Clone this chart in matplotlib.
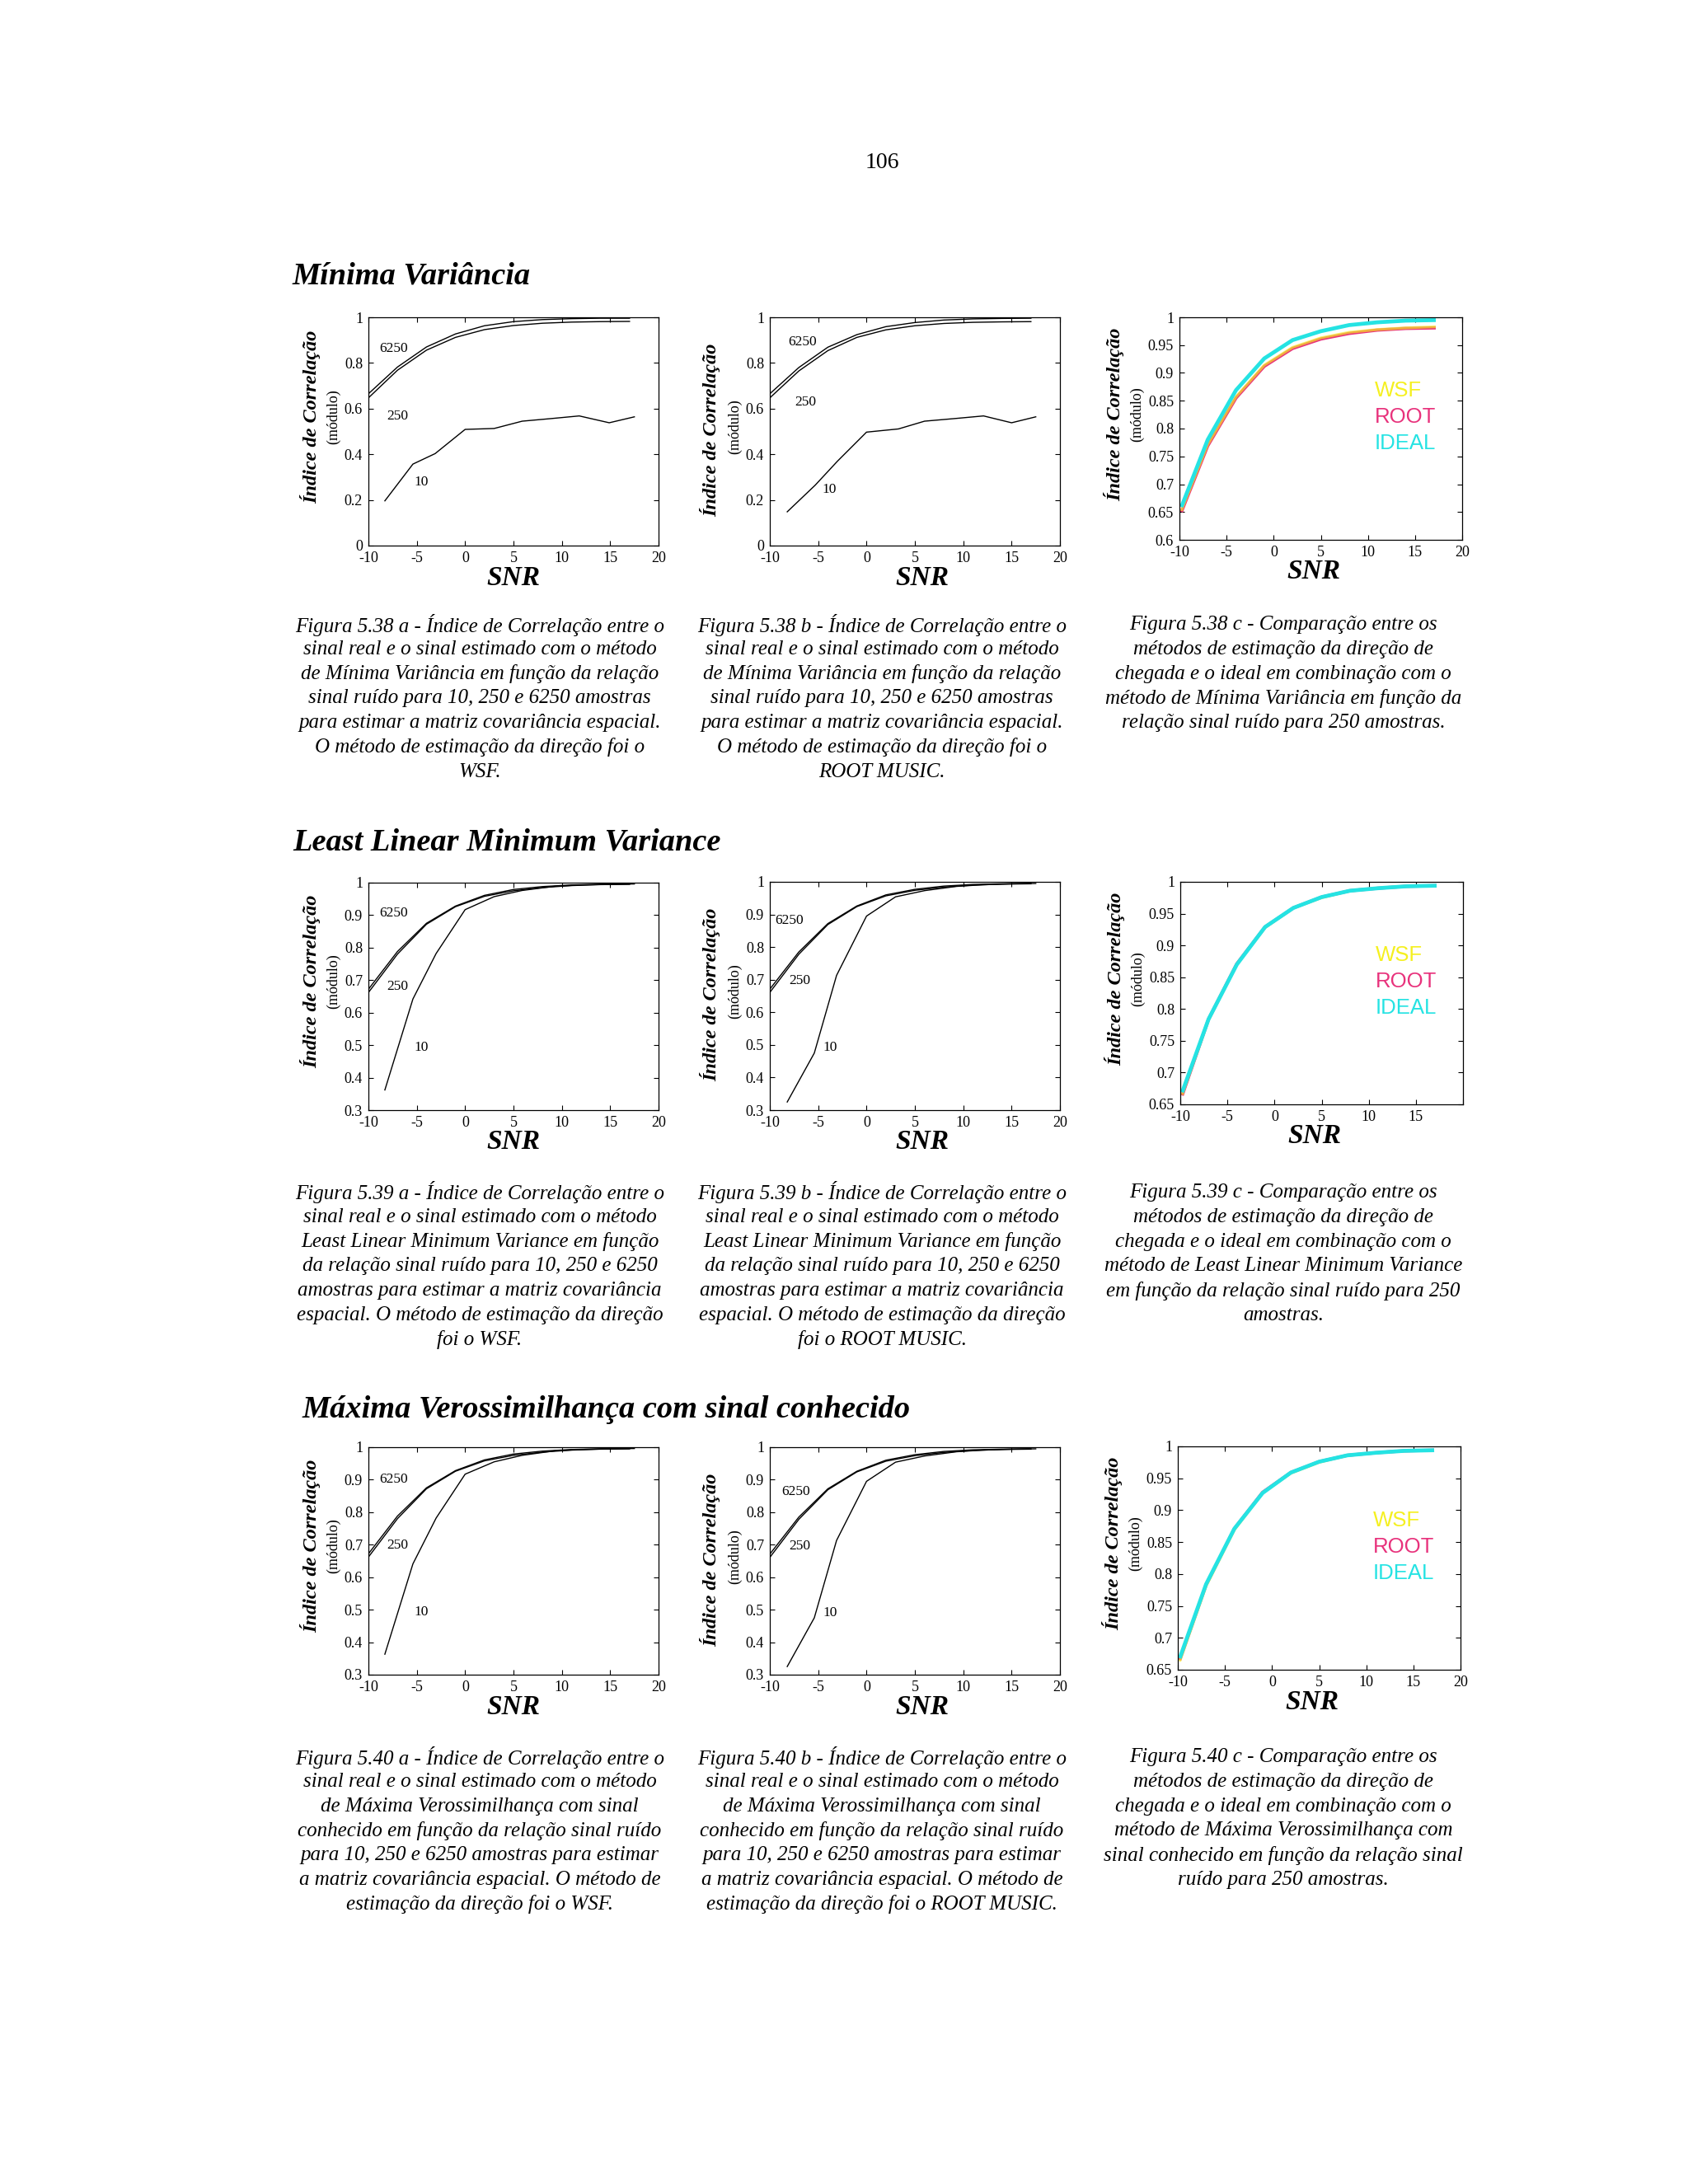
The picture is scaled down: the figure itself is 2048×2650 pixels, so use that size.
import matplotlib
matplotlib.use('Agg')
import matplotlib.pyplot as plt
from matplotlib.ticker import FixedLocator, FixedFormatter

W, H = 2048, 2650

# ---- data read from the page ----
snr = [-10, -7, -4, -1, 2, 5, 8, 11, 14, 17]

# Minima Variancia, WSF (5.38 a)
mv_wsf_6250 = [0.665, 0.782, 0.870, 0.927, 0.963, 0.981, 0.990, 0.994, 0.996, 0.996]
mv_wsf_250 = [0.647, 0.768, 0.856, 0.912, 0.946, 0.964, 0.974, 0.979, 0.981, 0.982]
mv_wsf_10_snr = [-8.3, -5.4, -3.1, 0.0, 3.0, 5.9, 8.8, 11.8, 14.9, 17.5]
mv_wsf_10 = [0.196, 0.357, 0.403, 0.509, 0.513, 0.545, 0.556, 0.568, 0.538, 0.564]

# Minima Variancia, ROOT MUSIC (5.38 b)
mv_root_6250 = [0.665, 0.780, 0.869, 0.924, 0.959, 0.977, 0.988, 0.993, 0.995, 0.996]
mv_root_250 = [0.647, 0.765, 0.854, 0.912, 0.945, 0.963, 0.973, 0.978, 0.980, 0.981]
mv_root_10_snr = [-8.2, -5.3, -3.0, 0.0, 3.3, 6.0, 9.0, 12.1, 15.0, 17.5]
mv_root_10 = [0.148, 0.265, 0.370, 0.497, 0.511, 0.545, 0.556, 0.568, 0.538, 0.564]

# Minima Variancia, comparison (5.38 c)
cmp_snr = [-9.8, -7, -4, -1, 2, 5, 8, 11, 14, 17.2]
mv_cmp_wsf = [0.652, 0.771, 0.857, 0.914, 0.946, 0.963, 0.973, 0.978, 0.981, 0.983]
mv_cmp_root = [0.650, 0.769, 0.855, 0.912, 0.944, 0.961, 0.971, 0.977, 0.980, 0.981]
mv_cmp_ideal = [0.659, 0.780, 0.869, 0.926, 0.959, 0.975, 0.986, 0.991, 0.994, 0.995]

# Least Linear Minimum Variance, WSF (5.39 a)
llmv_wsf_6250 = [0.672, 0.788, 0.875, 0.928, 0.961, 0.979, 0.988, 0.993, 0.995, 0.996]
llmv_wsf_250 = [0.662, 0.780, 0.872, 0.926, 0.958, 0.975, 0.985, 0.991, 0.994, 0.995]
llmv_wsf_10_snr = [-8.3, -5.4, -3.0, 0.0, 3.0, 5.9, 9.3, 12.0, 15.0, 17.5]
llmv_wsf_10 = [0.362, 0.642, 0.782, 0.917, 0.957, 0.976, 0.989, 0.993, 0.995, 0.996]

# Least Linear Minimum Variance, ROOT MUSIC (5.39 b)
llmv_root_6250 = [0.671, 0.785, 0.872, 0.926, 0.960, 0.977, 0.987, 0.992, 0.994, 0.995]
llmv_root_250 = [0.661, 0.778, 0.869, 0.924, 0.957, 0.974, 0.984, 0.990, 0.993, 0.994]
llmv_root_10_snr = [-8.2, -5.4, -3.1, 0.0, 3.0, 6.0, 9.3, 12.0, 15.0, 17.5]
llmv_root_10 = [0.325, 0.475, 0.713, 0.895, 0.954, 0.973, 0.986, 0.991, 0.994, 0.995]

# Least Linear Minimum Variance, comparison (5.39 c)
llmv_cmp_wsf = [0.665, 0.783, 0.870, 0.928, 0.959, 0.975, 0.986, 0.990, 0.993, 0.994]
llmv_cmp_root = [0.664, 0.784, 0.871, 0.929, 0.959, 0.976, 0.986, 0.990, 0.993, 0.994]
llmv_cmp_ideal = [0.669, 0.784, 0.870, 0.929, 0.959, 0.976, 0.986, 0.990, 0.993, 0.994]

# Maxima Verossimilhanca, WSF (5.40 a)
ml_wsf_6250 = [0.672, 0.788, 0.875, 0.928, 0.961, 0.979, 0.988, 0.993, 0.995, 0.996]
ml_wsf_250 = [0.662, 0.780, 0.872, 0.926, 0.958, 0.975, 0.985, 0.991, 0.994, 0.995]
ml_wsf_10_snr = [-8.3, -5.4, -3.0, 0.0, 3.0, 5.9, 9.3, 12.0, 15.0, 17.5]
ml_wsf_10 = [0.363, 0.641, 0.782, 0.917, 0.955, 0.975, 0.989, 0.993, 0.995, 0.996]

# Maxima Verossimilhanca, ROOT MUSIC (5.40 b)
ml_root_6250 = [0.671, 0.785, 0.872, 0.926, 0.960, 0.977, 0.987, 0.992, 0.994, 0.995]
ml_root_250 = [0.661, 0.778, 0.869, 0.924, 0.957, 0.974, 0.984, 0.990, 0.993, 0.994]
ml_root_10_snr = [-8.2, -5.4, -3.1, 0.0, 3.0, 6.0, 9.3, 12.0, 15.0, 17.5]
ml_root_10 = [0.325, 0.475, 0.713, 0.895, 0.954, 0.973, 0.986, 0.991, 0.994, 0.995]

# Maxima Verossimilhanca, comparison (5.40 c)
ml_cmp_wsf = [0.663, 0.781, 0.869, 0.927, 0.958, 0.975, 0.986, 0.990, 0.993, 0.994]
ml_cmp_root = [0.665, 0.783, 0.871, 0.928, 0.959, 0.976, 0.986, 0.990, 0.993, 0.994]
ml_cmp_ideal = [0.668, 0.784, 0.871, 0.927, 0.959, 0.976, 0.986, 0.990, 0.993, 0.994]

snr_ticks = [-10, -5, 0, 5, 10, 15, 20]
snr_labels = ['-10', '-5', '0', '5', '10', '15', '20']
snr_labels_no20 = ['-10', '-5', '0', '5', '10', '15', '']
y_ticks_full = [0, 0.2, 0.4, 0.6, 0.8, 1]
y_labels_full = ['0', '0.2', '0.4', '0.6', '0.8', '1']
y_ticks_03 = [0.3, 0.4, 0.5, 0.6, 0.7, 0.8, 0.9, 1]
y_labels_03 = ['0.3', '0.4', '0.5', '0.6', '0.7', '0.8', '0.9', '1']
y_ticks_06 = [0.6, 0.65, 0.7, 0.75, 0.8, 0.85, 0.9, 0.95, 1]
y_labels_06 = ['0.6', '0.65', '0.7', '0.75', '0.8', '0.85', '0.9', '0.95', '1']
y_ticks_065 = [0.65, 0.7, 0.75, 0.8, 0.85, 0.9, 0.95, 1]
y_labels_065 = ['0.65', '0.7', '0.75', '0.8', '0.85', '0.9', '0.95', '1']

method_names = ['WSF', 'ROOT', 'IDEAL']
method_colors = ['#f5f020', '#e8327c', '#25e3e3']

headings = ['Mínima Variância', 'Least Linear Minimum Variance',
            'Máxima Verossimilhança com sinal conhecido']

captions = [
    [["Figura 5.38 a - Índice de Correlação entre o",
      "sinal real e o sinal estimado com o método",
      "de Mínima Variância em função da relação",
      "sinal ruído para 10, 250 e 6250 amostras",
      "para estimar a matriz covariância espacial.",
      "O método de estimação da direção foi o",
      "WSF."],
     ["Figura 5.38 b - Índice de Correlação entre o",
      "sinal real e o sinal estimado com o método",
      "de Mínima Variância em função da relação",
      "sinal ruído para 10, 250 e 6250 amostras",
      "para estimar a matriz covariância espacial.",
      "O método de estimação da direção foi o",
      "ROOT MUSIC."],
     ["Figura 5.38 c - Comparação entre os",
      "métodos de estimação da direção de",
      "chegada e o ideal em combinação com o",
      "método de Mínima Variância em função da",
      "relação sinal ruído para 250 amostras."]],
    [["Figura 5.39 a - Índice de Correlação entre o",
      "sinal real e o sinal estimado com o método",
      "Least Linear Minimum Variance em função",
      "da relação sinal ruído para 10, 250 e 6250",
      "amostras para estimar a matriz covariância",
      "espacial. O método de estimação da direção",
      "foi o WSF."],
     ["Figura 5.39 b - Índice de Correlação entre o",
      "sinal real e o sinal estimado com o método",
      "Least Linear Minimum Variance em função",
      "da relação sinal ruído para 10, 250 e 6250",
      "amostras para estimar a matriz covariância",
      "espacial. O método de estimação da direção",
      "foi o ROOT MUSIC."],
     ["Figura 5.39 c - Comparação entre os",
      "métodos de estimação da direção de",
      "chegada e o ideal em combinação com o",
      "método de Least Linear Minimum Variance",
      "em função da relação sinal ruído para 250",
      "amostras."]],
    [["Figura 5.40 a - Índice de Correlação entre o",
      "sinal real e o sinal estimado com o método",
      "de Máxima Verossimilhança com sinal",
      "conhecido em função da relação sinal ruído",
      "para 10, 250 e 6250 amostras para estimar",
      "a matriz covariância espacial. O método de",
      "estimação da direção foi o WSF."],
     ["Figura 5.40 b - Índice de Correlação entre o",
      "sinal real e o sinal estimado com o método",
      "de Máxima Verossimilhança com sinal",
      "conhecido em função da relação sinal ruído",
      "para 10, 250 e 6250 amostras para estimar",
      "a matriz covariância espacial. O método de",
      "estimação da direção foi o ROOT MUSIC."],
     ["Figura 5.40 c - Comparação entre os",
      "métodos de estimação da direção de",
      "chegada e o ideal em combinação com o",
      "método de Máxima Verossimilhança com",
      "sinal conhecido em função da relação sinal",
      "ruído para 250 amostras."]],
]

plt.rcParams['font.family'] = ['Liberation Serif', 'DejaVu Serif']

fig = plt.figure(figsize=(W / 100, H / 100), dpi=100)
fig.patch.set_facecolor('white')


def px(x, y):
    return x / W, 1 - y / H


def make_axes(box, yticks, ylabels, ylim, xlabels, col):
    """box is (left, top, right, bottom) in page pixels"""
    x0, y0, x1, y1 = box
    ax = fig.add_axes([x0 / W, 1 - y1 / H, (x1 - x0) / W, (y1 - y0) / H])
    ax.set_xlim(-10, 20)
    ax.set_ylim(*ylim)
    ax.xaxis.set_major_locator(FixedLocator(snr_ticks))
    ax.xaxis.set_major_formatter(FixedFormatter(xlabels))
    ax.yaxis.set_major_locator(FixedLocator(yticks))
    ax.yaxis.set_major_formatter(FixedFormatter(ylabels))
    ax.tick_params(direction='in', length=4, width=0.8, labelsize=13,
                   top=True, right=True, pad=5)
    for s in ax.spines.values():
        s.set_linewidth(0.9)

    # axis titles, MATLAB style
    if col == 2:
        big_dx, small_dx, fy_big, fy_small, snr_dx = 79, 51, 0.565, 0.565, -9
    elif col == 1:
        big_dx, small_dx, fy_big, fy_small, snr_dx = 72, 42, 0.505, 0.52, 9
    else:
        big_dx, small_dx, fy_big, fy_small, snr_dx = 70, 42, 0.565, 0.565, 0
    fig.text(*px(x0 - big_dx, y1 - fy_big * (y1 - y0)), 'Índice de Correlação',
             rotation=90, ha='center', va='center', fontsize=17.5,
             fontweight='bold', fontstyle='italic')
    fig.text(*px(x0 - small_dx, y1 - fy_small * (y1 - y0)), '(módulo)',
             rotation=90, ha='center', va='center', fontsize=13)
    fig.text(*px((x0 + x1) / 2 + snr_dx, y1 + 39), 'SNR', ha='center',
             va='center', fontsize=24, fontweight='bold', fontstyle='italic')
    return ax


def plot_samples(ax, x10, y10, y250, y6250, pos):
    ax.plot(snr, y6250, color='black', lw=1.0)
    ax.plot(snr, y250, color='black', lw=1.0)
    ax.plot(x10, y10, color='black', lw=1.0)
    for lab, (lx, ly) in zip(['6250', '250', '10'], pos):
        ax.text(lx, ly, lab, ha='center', va='center', fontsize=12.5)


def plot_compare(ax, x, wsf, root, ideal):
    # pink under a translucent yellow gives the orange look of the scan
    ax.plot(x, root, color=method_colors[1], lw=2.8, solid_capstyle='butt')
    ax.plot(x, wsf, color=method_colors[0], lw=2.4, alpha=0.65,
            solid_capstyle='butt')
    ax.plot(x, ideal, color=method_colors[2], lw=3.4, solid_capstyle='butt')
    for i, (name, c) in enumerate(zip(method_names, method_colors)):
        ax.text(0.69, 0.669 - i * 0.118, name, transform=ax.transAxes,
                color=c, fontsize=18.5, family='Liberation Sans',
                ha='left', va='center')


# page number and section headings
fig.text(*px(1070, 198), '106', ha='center', va='center', fontsize=20)
heading_pos = [(355, 335), (355, 1022), (366, 1710)]
for text, (hx, hy) in zip(headings, heading_pos):
    fig.text(*px(hx, hy), text, ha='left', va='center', fontsize=27.6,
             fontweight='bold', fontstyle='italic')

# row 1 - Minima Variancia
ax = make_axes((447, 385, 799, 662), y_ticks_full, y_labels_full, (0, 1), snr_labels, 0)
plot_samples(ax, mv_wsf_10_snr, mv_wsf_10, mv_wsf_250, mv_wsf_6250,
             [(-7.36, 0.864), (-7.0, 0.568), (-4.57, 0.277)])
ax = make_axes((934, 385, 1286, 662), y_ticks_full, y_labels_full, (0, 1), snr_labels, 1)
plot_samples(ax, mv_root_10_snr, mv_root_10, mv_root_250, mv_root_6250,
             [(-6.67, 0.893), (-6.3, 0.629), (-3.82, 0.247)])
ax = make_axes((1431, 385, 1774, 655), y_ticks_06, y_labels_06, (0.6, 1), snr_labels, 2)
plot_compare(ax, cmp_snr, mv_cmp_wsf, mv_cmp_root, mv_cmp_ideal)

# row 2 - Least Linear Minimum Variance
ax = make_axes((447, 1071, 799, 1347), y_ticks_03, y_labels_03, (0.3, 1), snr_labels, 0)
plot_samples(ax, llmv_wsf_10_snr, llmv_wsf_10, llmv_wsf_250, llmv_wsf_6250,
             [(-7.36, 0.905), (-7.0, 0.680), (-4.57, 0.494)])
ax = make_axes((934, 1070, 1286, 1347), y_ticks_03, y_labels_03, (0.3, 1), snr_labels, 1)
plot_samples(ax, llmv_root_10_snr, llmv_root_10, llmv_root_250, llmv_root_6250,
             [(-8.0, 0.882), (-6.9, 0.696), (-3.74, 0.491)])
ax = make_axes((1432, 1070, 1775, 1340), y_ticks_065, y_labels_065, (0.65, 1), snr_labels_no20, 2)
plot_compare(ax, cmp_snr, llmv_cmp_wsf, llmv_cmp_root, llmv_cmp_ideal)

# row 3 - Maxima Verossimilhanca com sinal conhecido
ax = make_axes((447, 1756, 799, 2032), y_ticks_03, y_labels_03, (0.3, 1), snr_labels, 0)
plot_samples(ax, ml_wsf_10_snr, ml_wsf_10, ml_wsf_250, ml_wsf_6250,
             [(-7.36, 0.902), (-7.0, 0.698), (-4.57, 0.492)])
ax = make_axes((934, 1756, 1286, 2032), y_ticks_03, y_labels_03, (0.3, 1), snr_labels, 1)
plot_samples(ax, ml_root_10_snr, ml_root_10, ml_root_250, ml_root_6250,
             [(-7.3, 0.862), (-6.9, 0.696), (-3.74, 0.491)])
ax = make_axes((1429, 1755, 1772, 2026), y_ticks_065, y_labels_065, (0.65, 1), snr_labels, 2)
plot_compare(ax, cmp_snr, ml_cmp_wsf, ml_cmp_root, ml_cmp_ideal)

# captions
caption_x = [582, 1070, 1557]
caption_y = [758, 1447, 2132]
for row, y0 in enumerate(caption_y):
    for col, cx in enumerate(caption_x):
        for i, line in enumerate(captions[row][col]):
            fig.text(*px(cx, y0 + i * 29.8), line, ha='center', va='center',
                     fontsize=18, fontstyle='italic')

fig.savefig('out.png', dpi=100, facecolor='white')
